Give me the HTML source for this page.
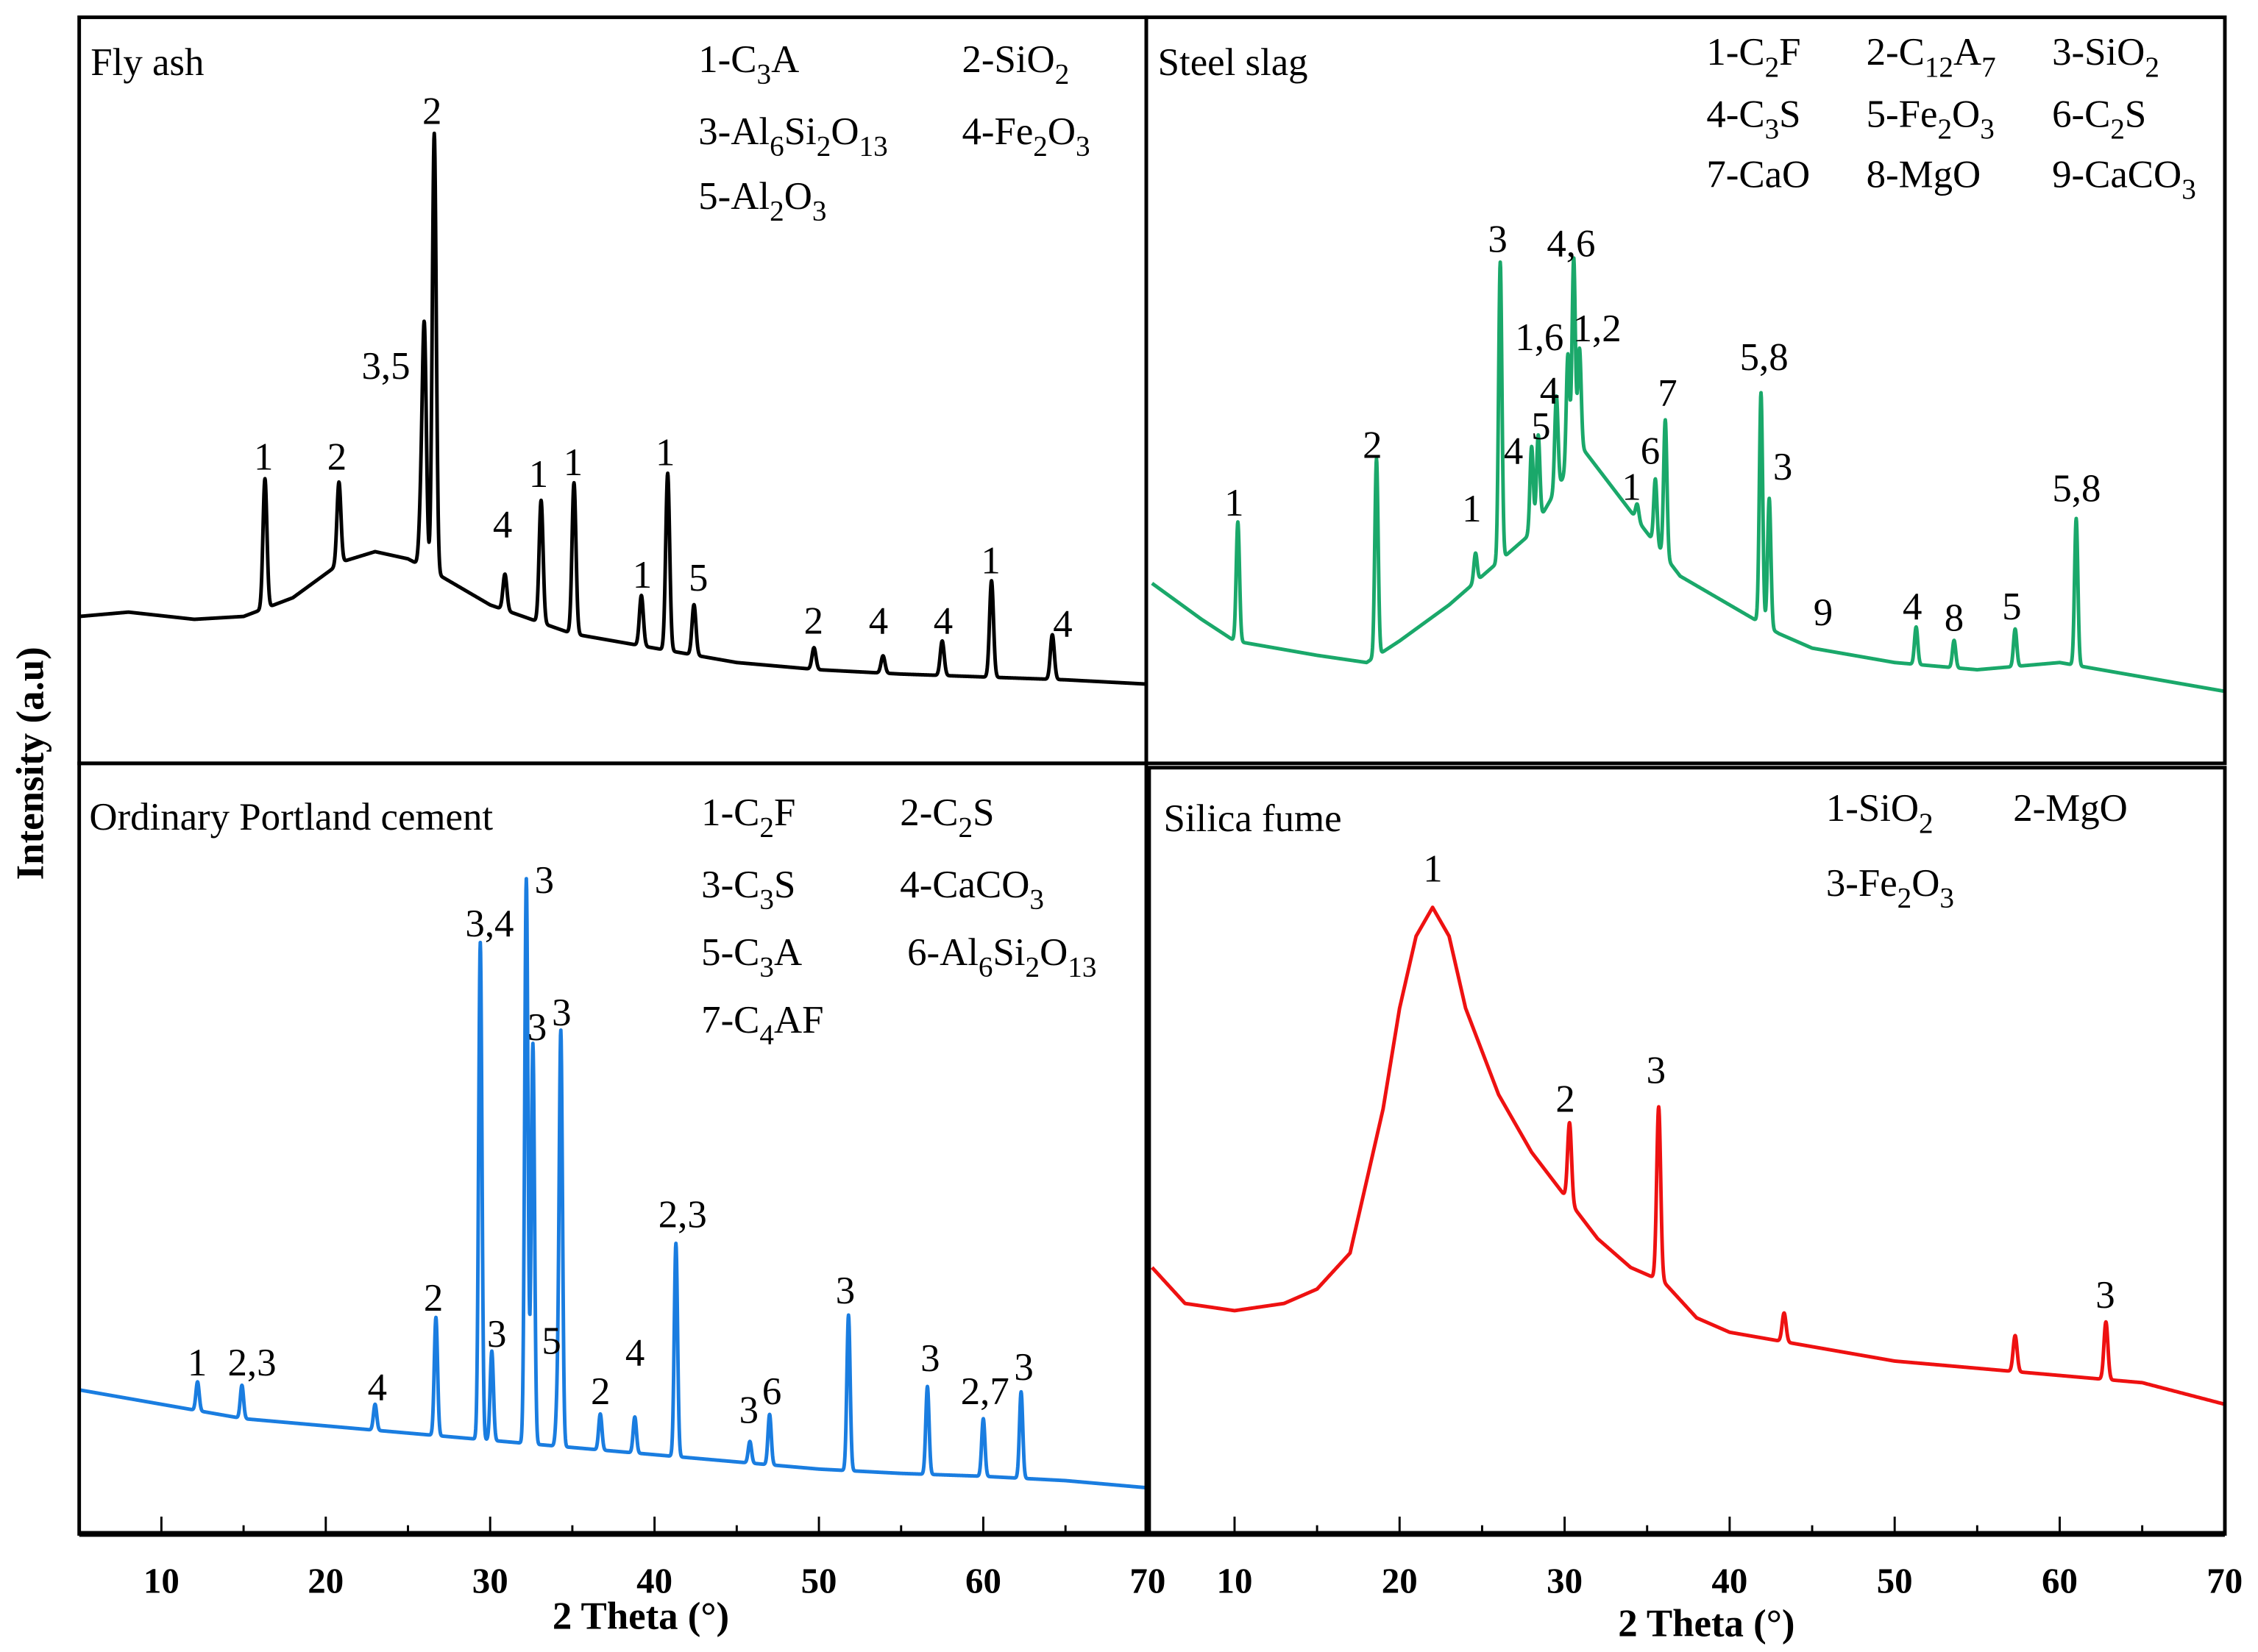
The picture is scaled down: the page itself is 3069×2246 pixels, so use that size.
<!DOCTYPE html>
<html><head><meta charset="utf-8"><style>
html,body{margin:0;padding:0;background:#fff;}
svg{display:block;font-family:"Liberation Serif",serif;}
</style></head><body>
<svg id="fig" xmlns="http://www.w3.org/2000/svg" width="3069" height="2246" viewBox="0 0 1568 1147" preserveAspectRatio="none">
<rect width="1568" height="1147" fill="#fff"/>
<g id="plots"></g>
<g id="frames" fill="none" stroke="#000" stroke-width="2.5">
<rect x="55" y="12" width="741" height="518"/>
<rect x="796" y="12" width="749" height="518"/>
<rect x="55" y="530" width="741" height="535"/>
<rect x="798" y="533" width="747" height="532"/>
<line x1="55" y1="1065" x2="1545" y2="1065" stroke-width="4"/>
</g>
<g id="ticks"></g>
<g id="texts" font-size="27" fill="#000"></g>
<text x="0" y="0" transform="translate(30,530) rotate(-90)" text-anchor="middle" font-size="27" font-weight="bold">Intensity (a.u)</text>
<text x="445" y="1131" text-anchor="middle" font-size="27" font-weight="bold">2 Theta (°)</text>
<text x="1185" y="1136" text-anchor="middle" font-size="27" font-weight="bold">2 Theta (°)</text>
</svg>
<script>
// ---- data ----
const tickLabels=[10,20,30,40,50,60,70];
const flyBaseT=[5,8,12,15,18,21,23,25,27,30,35,40,45,50,55,60,65,70];
const flyBaseI=[47,50,45,47,60,85,92,87,75,55,35,25,15,10,7,5,3,0];
const flyPeakT=[16.3,20.8,25.8,26.0,26.6,30.9,33.1,35.1,39.2,40.8,42.4,49.7,53.9,57.5,60.5,64.2];
const flyPeakI=[90,57,40,160,305,25,85,105,35,123,35,15,12,24,67,31];
const slagBaseT=[5,8,10,15,18,20,23,26,28,30,31,33,35,37,40,43,45,50,55,60,65,70];
const slagBaseI=[70,45,30,20,15,30,55,85,105,145,165,135,105,75,55,35,25,15,10,15,5,-5];
const slagPeakT=[10.2,18.6,24.6,26.1,28.0,28.4,29.5,30.2,30.55,30.9,34.4,35.5,36.1,41.9,42.4,51.3,53.6,57.3,61.0];
const slagPeakI=[83,137,20,207,60,60,65,80,140,70,11,45,95,160,90,26,19,26,102];
const opcBaseT=[5,10,15,20,25,30,35,40,45,50,55,60,65,70];
const opcBaseI=[100,90,80,75,70,65,60,55,50,45,42,40,37,32];
const opcPeakT=[12.2,14.9,23.0,26.7,29.4,30.1,32.2,32.6,34.1,34.3,36.7,38.8,41.3,45.8,47.0,51.8,56.6,60.0,62.3];
const opcPeakI=[20,23,18,82,345,62,392,278,30,285,25,25,148,15,35,108,61,40,60];
const sfBaseT=[5,7,10,13,15,17,18,19,20,21,22,23,24,26,28,30,32,34,36,38,40,45,50,55,60,65,70];
const sfBaseI=[185,160,155,160,170,195,245,295,365,415,435,415,365,305,265,235,205,185,175,150,140,130,120,115,110,105,90];
const sfPeakT=[30.3,35.7,43.3,57.3,62.8];
const sfPeakI=[55,120,20,25,40];

const NS="http://www.w3.org/2000/svg";
function xL(t){return 55+(t-5)*11.415;}
function xR(t){return 800+(t-5)*11.46;}
function yTop(i){return 475-i;}
function yBot(i){return 1065-i;}
function interp(ts,is,t){
  for(let k=0;k<ts.length-1;k++){if(t<=ts[k+1]){const f=(t-ts[k])/(ts[k+1]-ts[k]);return is[k]+f*(is[k+1]-is[k]);}}
  return is[is.length-1];
}
function curve(bt,bi,pt,pi,xf,yf,color,name,sig){
  let d="";
  for(let t=5;t<=70.0001;t+=0.02){
    let v=interp(bt,bi,t);
    for(let k=0;k<pt.length;k++){const z=(t-pt[k])/sig;v+=pi[k]*Math.exp(-z*z/2);}
    d+=(d?"L":"M")+xf(t).toFixed(2)+","+yf(v).toFixed(2);
  }
  const p=document.createElementNS(NS,"path");
  p.setAttribute("d",d);p.setAttribute("fill","none");p.setAttribute("stroke",color);
  p.setAttribute("stroke-width","2.5");p.setAttribute("stroke-linejoin","round");
  
  
  document.getElementById("plots").appendChild(p);
}
curve(flyBaseT,flyBaseI,flyPeakT,flyPeakI,xL,yTop,"#000","fly-ash-pattern",0.12);
curve(slagBaseT,slagBaseI,slagPeakT,slagPeakI,xR,yTop,"#1aa86a","steel-slag-pattern",0.1);
curve(opcBaseT,opcBaseI,opcPeakT,opcPeakI,xL,yBot,"#1a7de0","opc-pattern",0.1);
curve(sfBaseT,sfBaseI,sfPeakT,sfPeakI,xR,yBot,"#ee1111","silica-fume-pattern",0.12);

const tg=document.getElementById("ticks");
[xL,xR].forEach((xf,side)=>{
  for(let t=10;t<=70;t+=5){
    const l=document.createElementNS(NS,"line");
    const x=xf(t);l.setAttribute("x1",x);l.setAttribute("x2",x);
    l.setAttribute("y1",1065);l.setAttribute("y2",t%10===0?1053:1059);
    l.setAttribute("stroke","#000");l.setAttribute("stroke-width","1.5");
    
    
    tg.appendChild(l);
  }
  tickLabels.forEach(v=>{
    const tx=document.createElementNS(NS,"text");
    tx.setAttribute("x",xf(v));tx.setAttribute("y",1106);tx.setAttribute("text-anchor","middle");
    tx.setAttribute("font-size","25");tx.setAttribute("font-weight","bold");
    tx.textContent=v;
    
    
    tg.appendChild(tx);
  });
});

const txg=document.getElementById("texts");
function label(x,y,s,name,anchor){
  const t=document.createElementNS(NS,"text");
  t.setAttribute("x",x);t.setAttribute("y",y);
  if(anchor)t.setAttribute("text-anchor",anchor);
  const parts=s.split(/(\{[^}]*\})/);
  parts.forEach(p=>{
    if(!p)return;
    const sp=document.createElementNS(NS,"tspan");
    if(p[0]==="{"){sp.textContent=p.slice(1,-1);sp.setAttribute("dy","8");sp.setAttribute("font-size","20");}
    else{sp.textContent=p;if(t.childNodes.length&&t.lastChild.getAttribute("dy")==="8")sp.setAttribute("dy","-8");}
    t.appendChild(sp);
  });
  
  
  txg.appendChild(t);
}
label(63,52,"Fly ash","panel-title");
label(804,52,"Steel slag","panel-title");
label(62,576,"Ordinary Portland cement","panel-title");
label(808,577,"Silica fume","panel-title");
[[485,50,"1-C{3}A"],[668,50,"2-SiO{2}"],[485,100,"3-Al{6}Si{2}O{13}"],[668,100,"4-Fe{2}O{3}"],[485,145,"5-Al{2}O{3}"],
 [1185,45,"1-C{2}F"],[1296,45,"2-C{12}A{7}"],[1425,45,"3-SiO{2}"],
 [1185,88,"4-C{3}S"],[1296,88,"5-Fe{2}O{3}"],[1425,88,"6-C{2}S"],
 [1185,130,"7-CaO"],[1296,130,"8-MgO"],[1425,130,"9-CaCO{3}"],
 [487,573,"1-C{2}F"],[625,573,"2-C{2}S"],[487,623,"3-C{3}S"],[625,623,"4-CaCO{3}"],
 [487,670,"5-C{3}A"],[630,670,"6-Al{6}Si{2}O{13}"],[487,717,"7-C{4}AF"],
 [1268,570,"1-SiO{2}"],[1398,570,"2-MgO"],[1268,622,"3-Fe{2}O{3}"]
].forEach(a=>label(a[0],a[1],a[2],"legend-entry"));
[[183,326,"1"],[234,326,"2"],[268,263,"3,5"],[300,86,"2"],[349,373,"4"],[374,338,"1"],[398,330,"1"],[446,408,"1"],[462,323,"1"],[485,410,"5"],[565,440,"2"],[610,440,"4"],[655,440,"4"],[688,398,"1"],[738,442,"4"],
 [857,358,"1"],[953,318,"2"],[1022,362,"1"],[1040,175,"3"],[1051,322,"4"],[1070,305,"5"],[1076,280,"4"],[1069,243,"1,6"],[1091,178,"4,6"],[1109,237,"1,2"],[1133,347,"1"],[1146,322,"6"],[1158,282,"7"],[1225,257,"5,8"],[1238,333,"3"],[1266,434,"9"],[1328,430,"4"],[1357,438,"8"],[1397,430,"5"],[1442,348,"5,8"],
 [137,955,"1"],[175,955,"2,3"],[262,972,"4"],[301,910,"2"],[340,650,"3,4"],[345,935,"3"],[378,620,"3"],[373,722,"3"],[390,712,"3"],[383,940,"5"],[417,975,"2"],[441,948,"4"],[474,852,"2,3"],[520,988,"3"],[536,975,"6"],[587,905,"3"],[646,952,"3"],[684,975,"2,7"],[711,958,"3"],
 [995,612,"1"],[1087,772,"2"],[1150,752,"3"],[1462,908,"3"]
].forEach(a=>label(a[0],a[1],a[2],"peak-label","middle"));
</script>
</body></html>
